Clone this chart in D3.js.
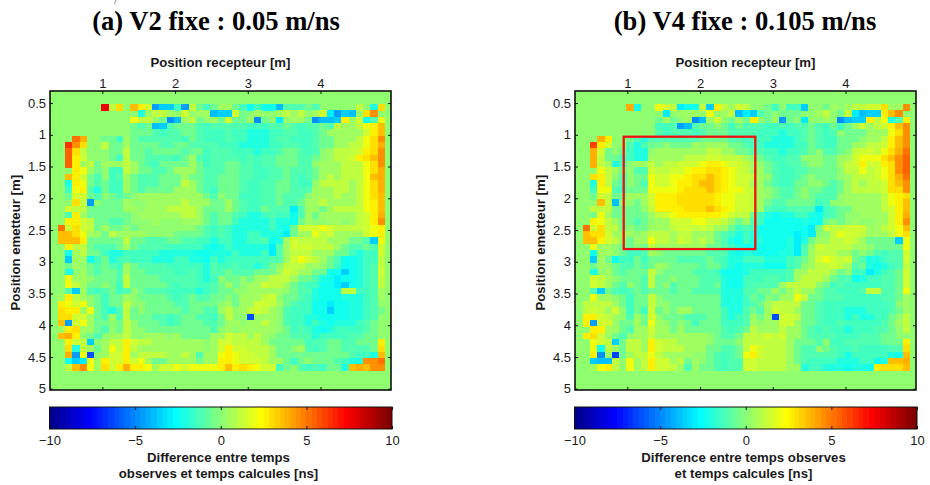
<!DOCTYPE html>
<html><head><meta charset="utf-8">
<script src="https://cdnjs.cloudflare.com/ajax/libs/d3/7.8.5/d3.min.js"></script>
<style>html,body{margin:0;background:#fff}svg{display:block}text{font-family:"Liberation Sans",Arial,sans-serif;fill:#1a1a1a}</style>
</head><body><svg id="c" width="930" height="485"></svg>
<script>
// Each character is one cell in 0.5 ns steps (see levelValues).
const levelKeys = ".abcdefghijklmABCDEFGHIJKLMNO";
const levelValues = [0,-0.5,-1,-1.5,-2,-2.5,-3,-3.5,-4,-4.5,-5,-5.5,-6,-6.5,0.5,1,1.5,2,2.5,3,3.5,4,4.5,5,5.5,6,6.5,7,7.5];
const panelATitle = "(a) V2 fixe : 0.05 m/ns";
const panelBTitle = "(b) V4 fixe : 0.105 m/ns";
const panelARows = [
"......OBF.GECiggciBaca AAaceceehbbbab.....B.dF",
"...........dABBA.C.AAh ggCa.A..ABAB.ACfigh.FI.",
"..........DBB.ajhABa.A aCaaAja.f.AAajhhgEACebD",
"..........abahgbaaabcb bbbbcccbbabcbbabBAABDEG",
"..........aaabcbbaabcc cbccdddccbbccbaAAAAACEG",
"..JH..aacAabbbbbbcabcc cbccdddcbbcccbaaAAABDFI",
".MIF..BaaAaaaabbaabbbb cccddddccbbccbaaAABBDFH",
".KFB...aaBaabaaaabaacb bbcccdccbaabcb.ABBBCEFI",
".KEC...acBaabbbbcaAbcb bbbcbcbbaaabba.ABBCEFGI",
".KEABaAAABAabcaaaaAacb baabbcbbaaabb.AAABBBDFI",
"..EDAa.ccBAaabbaAAAabb baabbccbbabbbaAAABBBDFH",
".GECab.cbAabbbaaaAaabb aaabbccbbabcbaABABBBDGH",
".dEDabaccAabbbaaaBAabb aaabccbbaabcc.BBBBABDFH",
".cDEbdaccAabaaaaAAAabc aaabccbbaabbbAAABBABDFH",
".aCCab.aba.AAAAAAAAAab .aacccbbabbb.AAABAABDFG",
"..FBi.aaaA..AAAAABAAAa aAabccbbabbaAABAAAABDEG",
".CBBaaaaaAA.AAABBBBAaa aAabccabbbfbAAaABBBBDEG",
".bEAaaaaaa.AAAAAABBAab aabcddcbccebAaAAAAABCEH",
".EECBaabba...A...AAAab aacddddcddeaA..AA.ABCEI",
"JCFCBaAaa.a........abc bcdddddcdeaCCCDCBBBBCDE",
"GGFDAAaBAAAA....aaaabc bcddccdddfaAADBCAAAACDE",
"GGGEaaaaaBaabbbaabbccd ccddccbedACBBBBAAAaabgD",
".EBBabbbaAabbbbcccccde dcdddddfbACCCBBBAabbabC",
".eABaacddcccccdddddeed ddcdddcfbABBBAAAaacdccC",
".gAAecadcbcccdddccddec dccccccbbACDCBAabeedccB",
".aA.ababcAabbbbcccccdb ccbccdca.BBBAA.aceedcbB",
".d.AabaabAaabbbbccbcdb babbbaaaACBAAaaeegedcbC",
".DAA.aaabBaaaabbbbbcdc .aa.aAABBBAaabdefeedcbB",
".DBAaa.acBaaaaabcbbccb aAa.AACBBAabcceefgedcbB",
".bgAbcbacb.abbbccccdcb aa..AAAAA.abbdeeeBBccbA",
"AEBA.acaaA.aaaabcbabba a.aAAABC.aabcdeeedddcbA",
"EDCD.acaaB..aaaabbaaaa .AaAACCBAabcceefeeddcb.",
"FEEADacdbBa.aaaaabaabb AB.ABCBA.bccceegeeddcba",
"FFCCAabAbBaaabbcbaabbc aB..lAAA.bccddeeeeddcb.",
"GiCDAaa.aB.aaabcbaaabb aAA.AABA.bccdcdedddcba.",
"AEFAAab.aB..aaaaaaaaab .A.AAAAA.acbcdedccccba.",
"GHE.ab.AAB..AAA.AaaaaA ACBBABA.aabbbdccccbbaa.",
".ECBg.ABBECBBAAAAAAA.A CCBBBBAaaaaacbbaabbaaaE",
".FdBAaADBEBAAAAAAAAA.A CECCBBBAaa.AbcbaabbbbaF",
".HiDl.ACCEABBBBAABAbAA DEDCCBBAaaaaaaaaaabccdG",
".egfDAECCECDAaaAAAAaAA EEDCCCBAAaca.aaabcddIIJ",
".BGIDAFCEHEEDACCDCDDDD EGEFEDCCca.bcbcaadGHGII"
];
const panelBRows = [
"......He..DCBfeeBgEBAC B..ac.ccg..aA.ABBCCFAAI",
"...........f.AAA.D.ABh fgba.aaa..AB.aBfhggEGI.",
"..........aAa.AjhAC.aA aE.aAia.f..A.jhggEBDdbE",
"..........ccbihbaa.aca bbbccbcbbabcacaACABCEGI",
"..........bcbbbcbaaabb bbcccdccbabcb.aaaAAADFI",
"..HE..abdbbbbbbbaaaabb cbccdddcbabccaaa.AABEGI",
".LEC..bdbaa.aaaA.AAAaa bccddddccabccaaAABBCEGI",
".HCa.acdd.AAAAAAABBAAa abbccdccba.bba.BCCBDFHJ",
".HBaaccddAAAAABBBCCBBB A.abccbb...aaAACDDDFGIK",
".HBAdb.AABABBCCCDEEDCC BA.abcbba..aaABCECCEFIK",
"..DBAa.bbCBBCCDEEFFEDC BAAabccbbaaaa.BBDBCDFIK",
".FEB.b.aaDCCDDEFFGFEDC CBA.bccba.aaa.ABBBCDFHJ",
".dEBab.abDCCDEEFGGFEDC CAAabccaa..abaABABBCFGI",
".cDDbcaaaDDDDEFFFGFEDD CBA.abba.aabbaABBBBCFFI",
".aCBaaAAACEEEFFFFFEDDC CBA.abba.abbb.AAAAABDEF",
"..GBh..aACEEEFFFFFEDDC CBAabbaaaacb..AAAAABDEG",
".BBBaaaa.BEEEEFFFGFEDC CBAbccbbbbfcbaaAAAABCEG",
".aDAaaaaaABCDEEEEEEDCB Bacdeddccdecba..AAAACEH",
".EDBAaaba.AACCCDDCCBAa Abceeeeedeea.a.A..AACEI",
"JCFBBa.aaAAABCCBCBAAac bceeeeeeefaCBBCCCAABCDG",
"GFFCAAA.ABBBABBAAAabcd cdeeeeefef..BDCCBAAABDF",
"GGECB.aAADBBACBABAabde cddeeedfdaAABBCBAaaaagD",
".DAA.aa.aBAAAAAAAaabcd eeeeeedfb.CBBBBAA.aaaaD",
".eAA.accbA.aaaaaabbbde ddeeeddfbABBBAAa.abcbbC",
".gAaeccacaaaabbbbabcdd cccdddcbaACDCBCabddcbbC",
".aA.abbabaA.aaaabaacde dddeeecb.ABBCBAbadedcbB",
".d.AabaaaB.aaaabbbceee dcccccbAABBBAa.ccfdcbaC",
".CBA.aaabBaa.aaabbbdee cccbbcbABBBAabbedccbbaC",
".CBAab.abBa.baaabbadee cbbbbABBBB.acbcccccbbaC",
".bgabcbabaaabaabbbbddd bbaaAaABAAabbcccbBBbbaD",
".DAA.acaaB.aaaaaaaaddd cab.aAADBaabbbcccccbbaA",
"BBBBAacaaB..aaaaaaaddd cbaABBBBaabcccccccccb.A",
"BCBAC.cacCa.aAAaaaacdd babACBBAaabcccdddcccbaA",
"EECBA.bAaC.aaabbbaacdc bAaAlCCBaabcccdcddcca.B",
"EiCCAaaAaDA.a.acaaaccc bA.AACCAaabccbcccccbaAB",
".EEAAabAACAAaAaaaaabcb aBAAABAAabcbccdcccbba.B",
"EFCAab.AABAAAAAAA.abba BBBCBCAAabbbbcccbbbaa..",
".DCBgaBBAECBBAAAA.aaa. BBBBBBAaaab.ccbbbbbaaaE",
".DeBAaBBAECBBBAAAaabba BDCBBBAabb.abccbccccbbF",
".EjAmaABBDBAAAA..abcba DECBBBAabbbbbcdcccccdeG",
".ghhB.DABECCABaA.abcbb CCBBBBAabccccdddccedGGH",
".ADEB.DABECCBAbAaabcbb CCBBBBAAdccdddeddeEFFFG"
];
const xTickValues = [1,2,3,4];
const yTickValues = [0.5,1,1.5,2,2.5,3,3.5,4,4.5,5];
const cbarTickValues = [-10,-5,0,5,10];
const xDomain = [0.28,4.97], yDomain = [0.31,5.02];
const firstColumnX = 0.386, firstRowY = 0.515, cellStep = 0.1;
const highlightBox = {x0:0.95,x1:2.76,y0:1.03,y1:2.8};
const panelALabel = ["Difference entre temps","observes et temps calcules [ns]"];
const panelBLabel = ["Difference entre temps observes","et temps calcules [ns]"];

const clamp01 = v => Math.max(0,Math.min(1,v));
const jet64 = d3.range(64).map(i=>{
  const t=(i+1)/64;
  return d3.rgb(255*clamp01(Math.min(4*t-1.5,-4*t+4.5)),255*clamp01(Math.min(4*t-0.5,-4*t+3.5)),255*clamp01(Math.min(4*t+0.5,-4*t+2.5))).formatHex();
});
const color = d3.scaleQuantize().domain([-10,10]).range(jet64);
const svg = d3.select("#c");
const valueOf = ch => levelValues[levelKeys.indexOf(ch)];

function tickStyle(g){
  g.select(".domain").remove();
  g.selectAll("line").attr("stroke","#111").attr("stroke-width",1);
  g.selectAll("text").style("font-size","13px");
}

function panel(left,right,titleText,rows,cbLines,cx,box){
  const x=d3.scaleLinear().domain(xDomain).range([left,right]);
  const y=d3.scaleLinear().domain(yDomain).range([91,390]);
  svg.append("text").text(titleText).attr("x",cx).attr("y",30).attr("text-anchor","middle")
    .style("font-family","'Liberation Serif',serif").style("font-weight","bold").style("font-size","26.6px").style("fill","#000");
  svg.append("text").text("Position recepteur [m]").attr("x",(left+right)/2).attr("y",67).attr("text-anchor","middle")
    .style("font-weight","bold").style("font-size","13.2px");
  svg.append("text").text("Position emetteur [m]").attr("transform",`translate(${left-30},${y(2.7)}) rotate(-90)`)
    .attr("text-anchor","middle").style("font-weight","bold").style("font-size","13.2px");
  svg.append("rect").attr("x",left).attr("y",91).attr("width",right-left).attr("height",299).attr("fill",color(0));
  const cells=[];
  rows.forEach((row,r)=>{ row.replace(" ","").split("").forEach((ch,c)=>{ if(ch!==".") cells.push({r,c,v:valueOf(ch)}); }); });
  svg.append("g").attr("shape-rendering","crispEdges").selectAll("rect").data(cells).join("rect")
    .attr("x",d=>x(firstColumnX+d.c*cellStep)).attr("y",d=>y(firstRowY+d.r*cellStep))
    .attr("width",x(cellStep)-x(0)+0.3).attr("height",y(cellStep)-y(0)+0.3).attr("fill",d=>color(d.v));
  if(box) svg.append("rect").attr("x",x(box.x0)).attr("y",y(box.y0)).attr("width",x(box.x1)-x(box.x0)).attr("height",y(box.y1)-y(box.y0))
    .attr("fill","none").attr("stroke","#ee1111").attr("stroke-width",2.3);
  svg.append("g").attr("transform","translate(0,91)").call(d3.axisTop(x).tickValues(xTickValues).tickFormat(d3.format("d")).tickSize(-3).tickPadding(3)).call(tickStyle);
  svg.append("g").attr("transform","translate(0,390)").call(d3.axisBottom(x).tickValues(xTickValues).tickFormat("").tickSize(-3)).call(tickStyle);
  svg.append("g").attr("transform",`translate(${left},0)`).call(d3.axisLeft(y).tickValues(yTickValues).tickFormat(d3.format("")).tickSize(-3).tickPadding(4)).call(tickStyle);
  svg.append("g").attr("transform",`translate(${right},0)`).call(d3.axisRight(y).tickValues(yTickValues).tickFormat("").tickSize(-3)).call(tickStyle);
  svg.append("rect").attr("x",left).attr("y",91).attr("width",right-left).attr("height",299).attr("fill","none").attr("stroke","#111").attr("stroke-width",1.6);
  // colour bar
  const cb=d3.scaleLinear().domain([-10,10]).range([left-0.5,right+1]);
  const cbTop=407,cbBottom=429;
  svg.append("g").attr("shape-rendering","crispEdges").selectAll("rect").data(jet64).join("rect")
    .attr("x",(d,i)=>cb(-10+i*20/64)).attr("y",cbTop).attr("width",cb(20/64)-cb(0)+0.4).attr("height",cbBottom-cbTop).attr("fill",d=>d);
  svg.append("g").attr("transform",`translate(0,${cbBottom})`).call(d3.axisBottom(cb).tickValues(cbarTickValues).tickFormat(d=>d<0?"\u2212"+Math.abs(d):d).tickSize(-3).tickPadding(7)).call(tickStyle);
  svg.append("g").attr("transform",`translate(0,${cbTop})`).call(d3.axisTop(cb).tickValues(cbarTickValues).tickFormat("").tickSize(-3)).call(tickStyle);
  svg.append("rect").attr("x",cb.range()[0]).attr("y",cbTop).attr("width",cb.range()[1]-cb.range()[0]).attr("height",cbBottom-cbTop).attr("fill","none").attr("stroke","#111").attr("stroke-width",1);
  cbLines.forEach((t,i)=>svg.append("text").text(t).attr("x",(left+right)/2-2).attr("y",462+i*16).attr("text-anchor","middle")
    .style("font-weight","bold").style("font-size","13.2px"));
}
panel(50,391,panelATitle,panelARows,panelALabel,216,null);
panel(575,916,panelBTitle,panelBRows,panelBLabel,745,highlightBox);
// small stray stroke at the top edge of the source figure
svg.append("line").attr("x1",114.5).attr("y1",4).attr("x2",116).attr("y2",0).attr("stroke","#777").attr("stroke-width",0.8);
</script></body></html>
